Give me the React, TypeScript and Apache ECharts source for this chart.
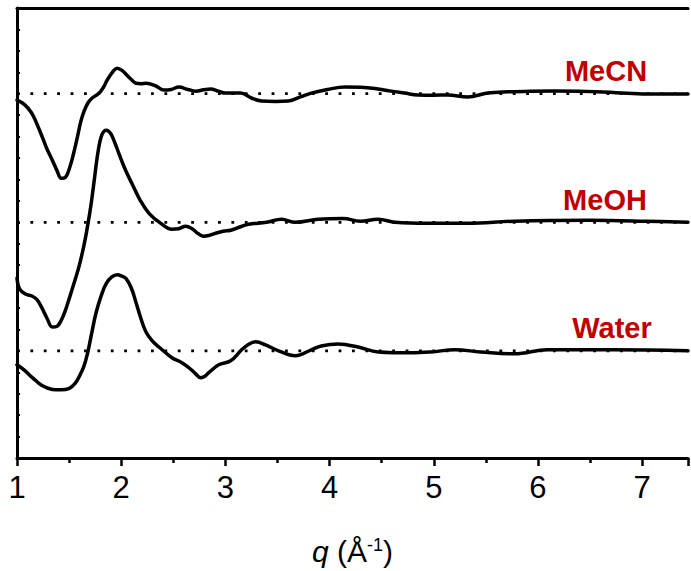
import React, { useEffect, useRef } from "react";
import * as echarts from "echarts";

const xTicks = [1, 2, 3, 4, 5, 6, 7];
const qMin = 1;
const qMax = 7.44;

const seriesNames = ["MeCN", "MeOH", "Water"];
const baselines = [17, 11, 5];

const qMeCN = [1.0, 1.07, 1.139, 1.19, 1.244, 1.29, 1.339, 1.385, 1.425, 1.465, 1.502, 1.54, 1.579, 1.612, 1.645, 1.685, 1.722, 1.789, 1.83, 1.865, 1.915, 1.961, 2.01, 2.056, 2.1, 2.142, 2.19, 2.238, 2.334, 2.41, 2.48, 2.554, 2.64, 2.716, 2.79, 2.86, 2.93, 3.003, 3.146, 3.25, 3.347, 3.48, 3.605, 3.72, 3.825, 3.98, 4.15, 4.3, 4.466, 4.59, 4.72, 4.848, 5.0, 5.135, 5.326, 5.517, 5.72, 5.928, 6.15, 6.406, 6.75, 7.047, 7.44];
const dMeCN = [-0.3, -0.5, -0.89, -1.4, -2.04, -2.6, -3.1, -3.6, -3.95, -3.9, -3.5, -2.85, -2.04, -1.3, -0.8, -0.4, -0.2, 0.03, 0.3, 0.63, 1.0, 1.19, 1.08, 0.86, 0.65, 0.49, 0.47, 0.49, 0.36, 0.17, 0.2, 0.31, 0.2, 0.12, 0.18, 0.22, 0.12, 0.03, 0.03, -0.2, -0.34, -0.36, -0.34, -0.15, 0.03, 0.2, 0.31, 0.3, 0.22, 0.12, 0.03, -0.06, -0.07, -0.06, -0.15, 0.03, 0.09, 0.12, 0.13, 0.12, 0.05, -0.01, -0.01];

const qMeOH = [1.0, 1.024, 1.08, 1.148, 1.19, 1.234, 1.29, 1.339, 1.385, 1.425, 1.465, 1.502, 1.55, 1.597, 1.645, 1.68, 1.712, 1.745, 1.77, 1.795, 1.817, 1.836, 1.856, 1.878, 1.903, 1.94, 1.98, 2.04, 2.104, 2.18, 2.267, 2.38, 2.487, 2.55, 2.62, 2.68, 2.745, 2.793, 2.85, 2.907, 2.98, 3.051, 3.14, 3.223, 3.395, 3.538, 3.672, 3.892, 4.131, 4.294, 4.466, 4.629, 4.944, 5.326, 5.775, 6.502, 7.047, 7.44];
const dMeOH = [-2.6, -3.1, -3.35, -3.45, -3.6, -3.95, -4.5, -4.89, -4.85, -4.57, -4.1, -3.55, -2.8, -2.03, -1.02, -0.1, 0.88, 2.1, 3.05, 3.75, 4.11, 4.25, 4.29, 4.25, 4.11, 3.7, 3.18, 2.45, 1.8, 1.05, 0.42, -0.05, -0.32, -0.3, -0.18, -0.3, -0.55, -0.65, -0.6, -0.51, -0.42, -0.37, -0.22, -0.09, 0.0, 0.14, 0.0, 0.14, 0.18, 0.05, 0.14, 0.0, -0.05, -0.05, 0.05, 0.09, 0.05, 0.0];

const qWater = [1.0, 1.07, 1.148, 1.24, 1.339, 1.42, 1.502, 1.56, 1.597, 1.64, 1.674, 1.72, 1.76, 1.81, 1.856, 1.91, 1.961, 2.0, 2.047, 2.1, 2.142, 2.19, 2.238, 2.3, 2.362, 2.487, 2.582, 2.649, 2.71, 2.764, 2.8, 2.84, 2.936, 3.051, 3.156, 3.22, 3.29, 3.385, 3.51, 3.672, 3.825, 3.92, 4.083, 4.274, 4.466, 4.781, 4.973, 5.202, 5.45, 5.775, 6.091, 6.731, 7.44];
const dWater = [-0.65, -0.9, -1.25, -1.62, -1.8, -1.82, -1.75, -1.5, -1.2, -0.75, -0.18, 0.9, 1.8, 2.6, 3.14, 3.45, 3.55, 3.5, 3.37, 2.9, 2.26, 1.5, 0.88, 0.45, 0.18, -0.32, -0.55, -0.78, -1.05, -1.25, -1.2, -1.02, -0.65, -0.46, 0.05, 0.3, 0.42, 0.28, 0.0, -0.23, 0.05, 0.23, 0.32, 0.18, -0.05, -0.09, -0.05, 0.05, -0.05, -0.14, 0.05, 0.05, 0.0];

const qs = [qMeCN, qMeOH, qWater];
const ds = [dMeCN, dMeOH, dWater];

const labelPos = [
  [606, 71],
  [605, 200],
  [612, 328],
];

export default function App() {
  const ref = useRef<HTMLDivElement>(null);
  useEffect(() => {
    document.body.style.margin = "0";
    if (!ref.current) return;
    const chart = echarts.init(ref.current, undefined, { renderer: "svg" });
    const font = "'Liberation Sans', Arial, sans-serif";
    const curveSeries = seriesNames.map((name, i) => ({
      name,
      type: "line",
      data: qs[i].map((q, j) => [q, baselines[i] + ds[i][j]]),
      smooth: 0.4,
      showSymbol: false,
      lineStyle: { color: "#000", width: 3.5, join: "round", cap: "round" },
      z: 3,
    }));
    const baseSeries = seriesNames.map((name, i) => ({
      name: name + " baseline",
      type: "line",
      data: [
        [qMin, baselines[i]],
        [qMax, baselines[i]],
      ],
      showSymbol: false,
      lineStyle: { color: "#000", width: 2.8, type: [2.8, 10.6], cap: "butt" },
      z: 2,
    }));
    chart.setOption({
      animation: false,
      grid: { left: 17, right: 0, top: 8, bottom: 108 },
      xAxis: [
        {
          type: "value",
          min: qMin,
          max: qMax,
          interval: 1,
          position: "bottom",
          axisLine: { lineStyle: { color: "#000", width: 3 } },
          axisTick: { inside: false, length: 8, lineStyle: { color: "#000", width: 2.5 } },
          minorTick: { show: true, splitNumber: 2, length: 5, lineStyle: { color: "#000", width: 2.5 } },
          splitLine: { show: false },
          axisLabel: {
            color: "#000",
            fontFamily: font,
            fontSize: 31,
            margin: 14,
            formatter: (v: number) => (xTicks.includes(v) ? String(v) : ""),
          },
          name: "{i|q} (Å{s|-1})",
          nameLocation: "middle",
          nameGap: 78,
          nameTextStyle: {
            color: "#000",
            fontFamily: font,
            fontSize: 30,
            rich: {
              i: { fontStyle: "italic", fontSize: 30, fontFamily: font, color: "#000" },
              s: { fontSize: 18, verticalAlign: "top", padding: [0, 0, 12, 0], fontFamily: font, color: "#000" },
            },
          },
        },
        {
          type: "value",
          min: qMin,
          max: qMax,
          interval: 0.5,
          position: "top",
          axisLine: { lineStyle: { color: "#000", width: 3 } },
          axisTick: { inside: true, length: 2, lineStyle: { color: "#000", width: 2 } },
          axisLabel: { show: false },
          splitLine: { show: false },
        },
      ],
      yAxis: {
        type: "value",
        min: 0,
        max: 21,
        interval: 1,
        axisLine: { show: true, lineStyle: { color: "#000", width: 3 } },
        axisTick: { show: true, inside: true, length: 3, lineStyle: { color: "#000", width: 2 } },
        axisLabel: { show: false },
        splitLine: { show: false },
      },
      graphic: seriesNames.map((name, i) => ({
        type: "text",
        x: labelPos[i][0],
        y: labelPos[i][1],
        style: {
          text: name,
          fill: "#C00000",
          font: `bold 29px ${font}`,
          textAlign: "center",
          textVerticalAlign: "middle",
        },
      })),
      series: [...baseSeries, ...curveSeries],
    });
    return () => chart.dispose();
  }, []);
  return <div ref={ref} style={{ width: 691, height: 571 }} />;
}
